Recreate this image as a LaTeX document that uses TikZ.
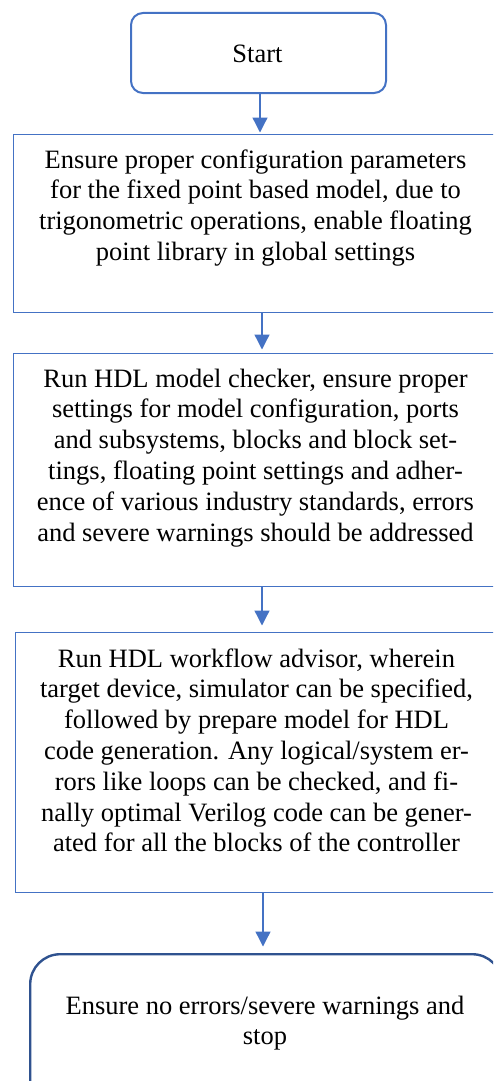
\documentclass[tikz,border=0pt]{standalone}
\usepackage{fontspec}
\setmainfont{Liberation Serif}
\usetikzlibrary{arrows.meta}
\definecolor{mblue}{HTML}{4472C4}
\definecolor{dblue}{HTML}{2F528F}
\tikzset{
  startbox/.style={draw=mblue, line width=2pt, rounded corners=12pt, inner sep=0pt},
  procbox/.style={draw=mblue, line width=1.2pt, inner sep=0pt},
  stopbox/.style={draw=dblue, line width=2.4pt, rounded corners=30pt, inner sep=0pt},
  txt/.style={inner sep=0pt, font=\fontsize{26.5pt}{30.8pt}\selectfont},
  arr/.style={draw=mblue, line width=1.3pt, -{Triangle[width=15pt,length=15pt]}}
}
\begin{document}
\begin{tikzpicture}[x=1pt,y=-1pt]
\useasboundingbox (0,0) rectangle (493,1081);
\clip (0,0) rectangle (493,1081);
% boxes
\node[startbox, minimum width=255pt, minimum height=80pt, anchor=north west] (start) at (130,12) {};
\node[procbox, minimum width=485pt, minimum height=178pt, anchor=north west] (b1) at (13,134) {};
\node[procbox, minimum width=485pt, minimum height=233pt, anchor=north west] (b2) at (13,353) {};
\node[procbox, minimum width=484pt, minimum height=260pt, anchor=north west] (b3) at (14.5,632) {};
\node[stopbox, minimum width=472pt, minimum height=160pt, anchor=north west] (stop) at (29,953) {};
% texts
\node[txt, anchor=base] (tstart) at (257.5,63) {Start};
\node[txt, anchor=base] (t1) at (255.5,168) {\parbox[t]{480pt}{\centering
Ensure proper configuration parameters\\
for the fixed point based model, due to\\
trigonometric operations, enable floating\\
point library in global settings}};
\node[txt, anchor=base] (t2) at (255.5,387) {\parbox[t]{480pt}{\centering
Run HDL model checker, ensure proper\\
settings for model configuration, ports\\
and subsystems, blocks and block set-\\
tings, floating point settings and adher-\\
ence of various industry standards, errors\\
and severe warnings should be addressed}};
\node[txt, anchor=base] (t3) at (256.5,667) {\parbox[t]{480pt}{\centering
Run HDL workflow advisor, wherein\\
target device, simulator can be specified,\\
followed by prepare model for HDL\\
code generation. Any logical/system er-\\
rors like loops can be checked, and fi-\\
nally optimal Verilog code can be gener-\\
ated for all the blocks of the controller}};
\node[txt, anchor=base] (tstop) at (265,1014) {\parbox[t]{470pt}{\centering
Ensure no errors/severe warnings and\\
stop}};
% connectors
\coordinate (x1) at (260,0);
\coordinate (x2) at (262,0);
\coordinate (x3) at (262,0);
\coordinate (x4) at (263,0);
\draw[arr, shorten >=1.5pt] (start.south -| x1) -- (b1.north -| x1);
\draw[arr, shorten >=3.5pt] (b1.south -| x2) -- (b2.north -| x2);
\draw[arr, shorten >=6.5pt] (b2.south -| x3) -- (b3.north -| x3);
\draw[arr, shorten >=6.5pt] (b3.south -| x4) -- (stop.north -| x4);
\end{tikzpicture}
\end{document}
